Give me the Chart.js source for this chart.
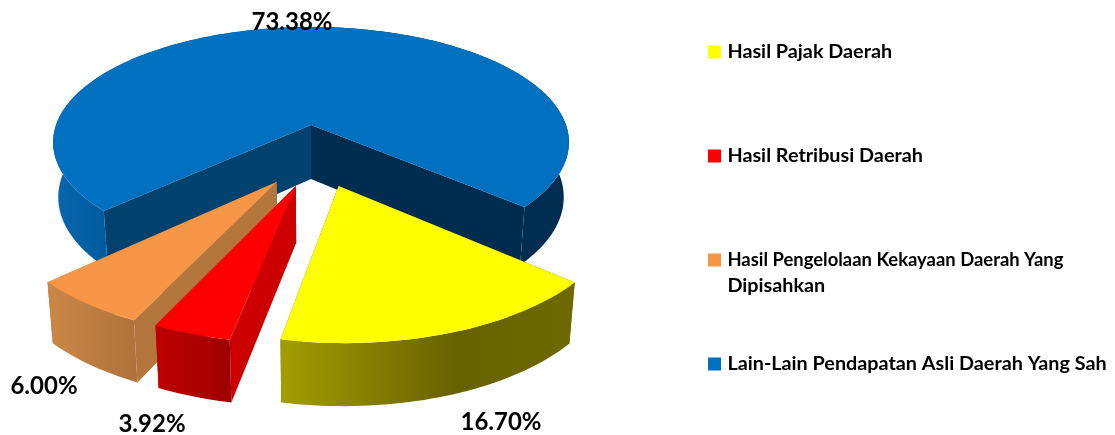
<!DOCTYPE html>
<html><head><meta charset="utf-8">
<style>html,body{margin:0;padding:0;background:#fff}canvas{display:block}</style>
<script src="https://cdn.jsdelivr.net/npm/chart.js@4/dist/chart.umd.js"></script>
</head><body><canvas id="c" width="1115" height="435"></canvas>
<script>
const categories = ['Hasil Pajak Daerah','Hasil Retribusi Daerah',['Hasil Pengelolaan Kekayaan Daerah Yang','Dipisahkan'],'Lain-Lain Pendapatan Asli Daerah Yang Sah'];
const values = [16.70,3.92,6.00,73.38];
const colors = ['#FFFF00','#FF0000','#F79646','#0070C0'];

const FONT = 'Lato';
const LEGEND_SIZE = 19.8;
const LEGEND_PAD = 84.2;
const LEGEND_BOX_X = 711.5;
const LEGEND_FIRST_Y = 42.1;
const WRAP_FIRST_WIDTH = 336;
const cam = {cx:311,cy:125,a:255,b:112.7,p:0.15,depth:54,depthGrow:6,shrink:0.98};
const explode = [[0.1,0.5],[-0.055,0.5],[-0.125,0.47],[0,0]];
const faceColors = [['#666200','#666200'],['#CC0000','#CC0000'],['#B3763D','#B3763D'],['#02426F','#002C4F']];
const wallStops = [
  [[0,'#A39D00'],[0.6,'#666200'],[1,'#6E6A00']],
  [[0,'#C00000'],[1,'#9E0000']],
  [[0,'#CB8747'],[1,'#B0733B']],
  [[0,'#0A66AE'],[0.1,'#005C9E'],[0.5,'#005C9E'],[0.5,'#002D50'],[1,'#002D50']]
];
const labelAt = [[501,422],[152,424],[44,386],[292,22]];

function proj(X,Y,i,low){
  const x=X+explode[i][0], y=Y+explode[i][1], w=1-cam.p*y;
  let px=cam.cx+cam.a*x/w, py=cam.cy+cam.b*y/w;
  if(low){px=cam.cx+(px-cam.cx)*cam.shrink;py+=cam.depth+cam.depthGrow*y;}
  return [px,py];
}
function poly(ctx,pts,fill){
  ctx.beginPath();pts.forEach((p,k)=>k?ctx.lineTo(p[0],p[1]):ctx.moveTo(p[0],p[1]));ctx.closePath();
  ctx.fillStyle=fill;ctx.fill();
}
const pie3d = {
  id:'pie3d',
  beforeLayout(chart){
    const lg=chart.legend;
    if(lg && !lg._wrapped){
      lg._wrapped=true;
      const fit=lg.fit;
      lg.fit=function(){
        const mh=this.maxHeight;
        this.maxHeight=2000;
        fit.call(this);
        this.maxHeight=mh;
        this.height=mh;
        this.width=chart.width-(LEGEND_BOX_X-LEGEND_PAD);
      };
    }
  },
  afterLayout(chart){
    const lg=chart.legend;
    lg.top=LEGEND_FIRST_Y-LEGEND_PAD;
    lg.bottom=chart.height+200;
  },
  beforeDatasetDraw(chart,args){
    const ctx=chart.ctx, arcs=args.meta.data;
    [3,2,1,0].forEach(i=>{
      const arc=arcs[i], s=arc.startAngle, e=arc.endAngle, n=Math.ceil((e-s)*40);
      const top=[],low=[];
      for(let k=0;k<=n;k++){
        const t=s+(e-s)*k/n, X=Math.cos(t), Y=Math.sin(t);
        top.push(proj(X,Y,i,false));low.push(proj(X,Y,i,true));
      }
      const xs=top.map(p=>p[0]), x0=Math.min(...xs), x1=Math.max(...xs);
      const g=ctx.createLinearGradient(x0,0,x1,0);
      wallStops[i].forEach(st=>g.addColorStop(st[0],st[1]));
      const a=proj(0,0,i,false), aL=proj(0,0,i,true);
      poly(ctx,[a,top[n],low[n],aL],faceColors[i][1]);
      poly(ctx,[a,top[0],low[0],aL],faceColors[i][0]);
      poly(ctx,top.concat(low.slice().reverse()),g);
      poly(ctx,[a].concat(top),arc.options.backgroundColor);
    });
    return false;
  },
  afterDatasetsDraw(chart){
    const ctx=chart.ctx;
    ctx.save();
    ctx.font='bold 24px '+FONT;ctx.fillStyle='#000';ctx.textAlign='center';ctx.textBaseline='middle';
    values.forEach((v,i)=>ctx.fillText(v.toFixed(2)+'%',labelAt[i][0],labelAt[i][1]));
    ctx.restore();
  },
  afterDraw(chart){
    const ctx=chart.ctx, lg=chart.legend, o=lg.options.labels, size=o.font.size;
    ctx.save();
    ctx.font='bold '+size+'px '+FONT;ctx.fillStyle='#000';ctx.textAlign='left';ctx.textBaseline='middle';
    categories.forEach((c,i)=>{
      if(Array.isArray(c)){
        const x=lg.left+LEGEND_PAD+o.boxWidth+size/2;
        const y=lg.top+LEGEND_PAD+i*(size+LEGEND_PAD)+size/2;
        c.forEach((line,k)=>ctx.fillText(line,x,y+26*k,k===0?WRAP_FIRST_WIDTH:undefined));
      }
    });
    ctx.restore();
  }
};
new Chart(document.getElementById('c'),{
  type:'pie',
  data:{labels:categories,datasets:[{data:values,backgroundColor:colors,borderWidth:0}]},
  options:{
    responsive:false,animation:false,rotation:131,
    plugins:{
      tooltip:{enabled:false},
      legend:{position:'right',align:'start',
        labels:{boxWidth:6,boxHeight:6,padding:LEGEND_PAD,color:'#000',font:{family:FONT,size:LEGEND_SIZE,weight:'bold'},
          generateLabels(chart){
            return Chart.overrides.doughnut.plugins.legend.labels.generateLabels(chart)
              .map(l=>Object.assign(l,{text:Array.isArray(l.text)?'':l.text,strokeStyle:l.fillStyle,lineWidth:7}));
          }}}
    }
  },
  plugins:[pie3d]
});
</script></body></html>
